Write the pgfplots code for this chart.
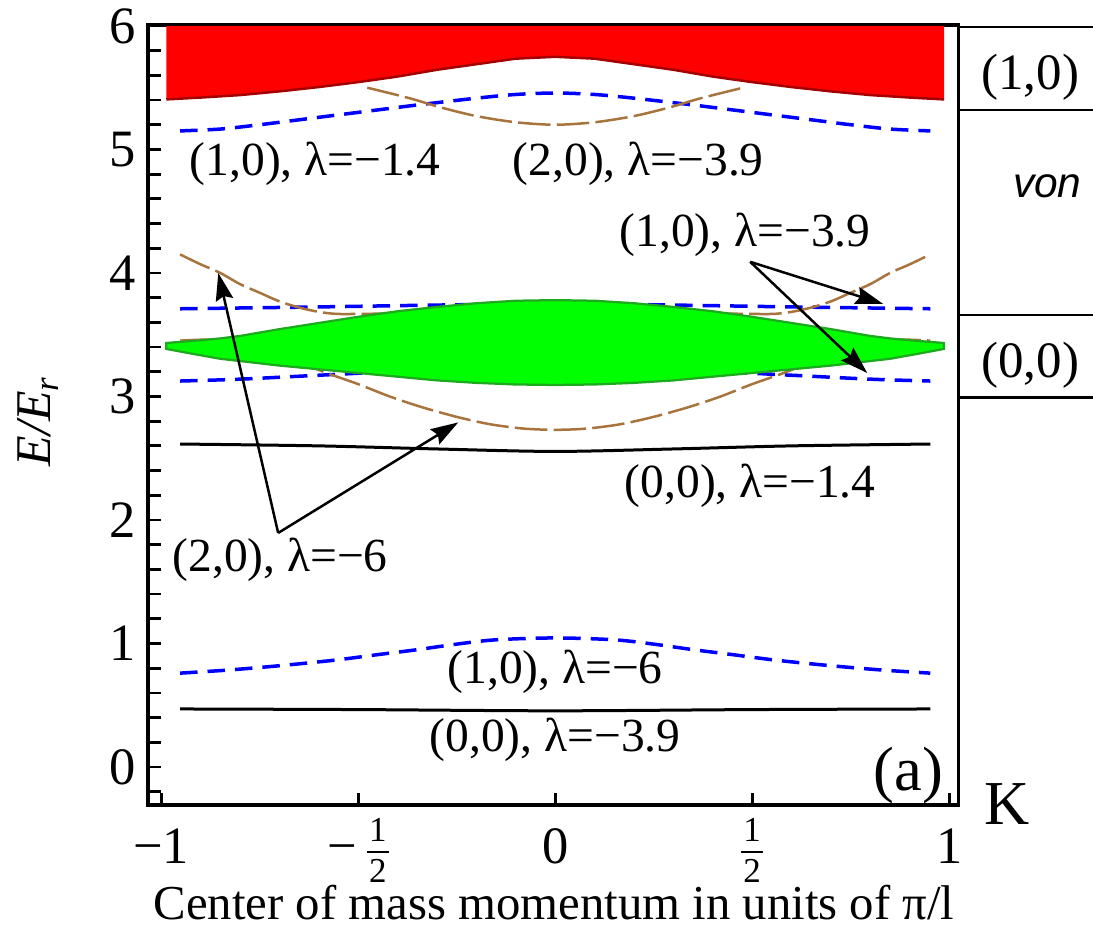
\documentclass[border=0pt]{standalone}
\usepackage{fontspec}
\setmainfont{Liberation Serif}
\newfontfamily\sansfam{Liberation Sans}
\usepackage{pgfplots}
\pgfplotsset{compat=1.18}
\usetikzlibrary{arrows.meta}
\definecolor{bandred}{RGB}{255,0,0}
\definecolor{edgered}{RGB}{165,0,0}
\definecolor{bandgreen}{RGB}{0,255,0}
\definecolor{edgegreen}{RGB}{30,170,30}
\definecolor{lineblue}{RGB}{0,0,255}
\definecolor{brownline}{RGB}{168,116,62}
\newcommand{\myfrac}[2]{\begingroup\fontsize{14}{14}\selectfont
\rlap{\raisebox{8.6pt}{\makebox[9pt]{#1}}}\rlap{\raisebox{4pt}{\rule{9pt}{0.9pt}}}\raisebox{-7.6pt}{\makebox[9pt]{#2}}\endgroup}
\newcommand{\lab}{\fontsize{19}{20}\selectfont}
\begin{document}
\begin{tikzpicture}
\begin{axis}[
  scale only axis, width=324pt, height=312pt,
  xmin=-1.033, xmax=1.023, ymin=-0.308, ymax=6.008,
  clip=false,
  axis line style={line width=1.4pt},
  tick pos=left, tick align=inside,
  major tick length=5pt, minor tick length=5pt,
  every tick/.style={line width=1.1pt, black},
  xtick={-1,-0.5,0,0.5,1},
  xticklabels={−1, −\hspace{4pt}\myfrac{1}{2}, 0, \myfrac{1}{2}, 1},
  ytick={0,1,2,3,4,5,6},
  yticklabels={0,1,2,3,4,5,6},
  minor ytick={-0.2,0.2,0.4,0.6,0.8,1.2,1.4,1.6,1.8,2.2,2.4,2.6,2.8,3.2,3.4,3.6,3.8,4.2,4.4,4.6,4.8,5.2,5.4,5.6,5.8},
  every tick label/.append style={font=\fontsize{21}{21}\selectfont},
  xticklabel style={anchor=base, yshift=-23.2pt, inner sep=0pt},
  yticklabel style={xshift=-1.4pt},
  xlabel={Center of mass momentum in units of π/l},
  xlabel style={font=\fontsize{19.5}{20}\selectfont, at={(axis description cs:0.501,-0.147)}, anchor=base, inner sep=0pt, text height=13pt},
  ylabel={\itshape E/E\textsubscript{\itshape r}},
  ylabel style={font=\fontsize{20}{20}\selectfont, at={(axis description cs:-0.136,0.492)}, anchor=center},
]
% blue dashed (1,0) lambda=-1.4
\addplot[lineblue, line width=1.4pt, dash pattern=on 7pt off 4pt, smooth] coordinates {
(-0.952,5.15) (-0.85,5.165) (-0.75,5.2) (-0.65,5.24) (-0.5,5.30) (-0.35,5.36) (-0.2,5.415) (-0.1,5.445) (0,5.457)
(0.1,5.445) (0.2,5.415) (0.35,5.36) (0.5,5.30) (0.65,5.24) (0.75,5.2) (0.85,5.165) (0.952,5.15)};
% brown (2,0) lambda=-3.9
\addplot[brownline, line width=1pt, dash pattern=on 13pt off 2.5pt, smooth] coordinates {
(-0.477,5.50) (-0.37,5.415) (-0.29,5.34) (-0.2,5.27) (-0.1,5.22) (0,5.20)
(0.1,5.22) (0.2,5.27) (0.29,5.34) (0.37,5.415) (0.477,5.50)};
% blue dashed (1,0) lambda=-3.9 upper
\addplot[lineblue, line width=1.4pt, dash pattern=on 7pt off 4pt, smooth] coordinates {
(-0.952,3.71) (-0.6,3.725) (-0.3,3.74) (0,3.75) (0.3,3.74) (0.6,3.725) (0.952,3.71)};
% blue dashed lower
\addplot[lineblue, line width=1.4pt, dash pattern=on 7pt off 4pt, smooth] coordinates {
(-0.952,3.125) (-0.8,3.14) (-0.58,3.175) (-0.4,3.20) (0,3.22) (0.4,3.20) (0.58,3.175) (0.8,3.14) (0.952,3.125)};
% brown (2,0) lambda=-6 upper
\addplot[brownline, line width=1pt, dash pattern=on 13pt off 2.5pt, smooth] coordinates {
(-0.952,4.15) (-0.9,4.07) (-0.85,4.0) (-0.8,3.91) (-0.75,3.84) (-0.7,3.77) (-0.65,3.72) (-0.6,3.685) (-0.55,3.668) (-0.45,3.67) (0,3.68)
(0.45,3.67) (0.55,3.668) (0.6,3.685) (0.65,3.72) (0.7,3.77) (0.75,3.84) (0.8,3.91) (0.85,4.0) (0.9,4.07) (0.952,4.15)};
% brown (2,0) lambda=-6 lower
\addplot[brownline, line width=1pt, dash pattern=on 13pt off 2.5pt, smooth] coordinates {
(-0.952,3.452) (-0.88,3.46) (-0.8,3.44) (-0.72,3.37) (-0.65,3.28) (-0.58,3.19) (-0.5,3.10) (-0.42,3.0) (-0.34,2.915) (-0.25,2.835) (-0.165,2.775) (-0.08,2.74) (0,2.73)
(0.08,2.74) (0.165,2.775) (0.25,2.835) (0.34,2.915) (0.42,3.0) (0.5,3.10) (0.58,3.19) (0.65,3.28) (0.72,3.37) (0.8,3.44) (0.88,3.46) (0.952,3.452)};
% black (0,0) lambda=-1.4
\addplot[black, line width=1.2pt, smooth] coordinates {
(-0.952,2.615) (-0.6,2.60) (-0.3,2.575) (0,2.555) (0.3,2.575) (0.6,2.60) (0.952,2.615)};
% blue dashed (1,0) lambda=-6
\addplot[lineblue, line width=1.4pt, dash pattern=on 7pt off 4pt, smooth] coordinates {
(-0.952,0.76) (-0.83,0.785) (-0.7,0.82) (-0.56,0.865) (-0.45,0.91) (-0.35,0.95) (-0.25,0.995) (-0.15,1.03) (0,1.045)
(0.15,1.03) (0.25,0.995) (0.35,0.95) (0.45,0.91) (0.56,0.865) (0.7,0.82) (0.83,0.785) (0.952,0.76)};
% black (0,0) lambda=-3.9
\addplot[black, line width=1.2pt, smooth] coordinates {
(-0.952,0.47) (-0.5,0.465) (0,0.455) (0.5,0.465) (0.952,0.47)};
% green band
\addplot[fill=bandgreen, draw=edgegreen, line width=0.9pt] coordinates {
(-0.987,3.433) (-0.9,3.455) (-0.85,3.47) (-0.8,3.49) (-0.7,3.545) (-0.6,3.595) (-0.5,3.645) (-0.4,3.69) (-0.3,3.725) (-0.2,3.755) (-0.1,3.775) (0,3.78)
(0.1,3.775) (0.2,3.755) (0.3,3.725) (0.4,3.69) (0.5,3.645) (0.6,3.595) (0.7,3.545) (0.8,3.49) (0.85,3.47) (0.9,3.455) (0.987,3.433)
(0.987,3.385) (0.92,3.345) (0.85,3.305) (0.7,3.25) (0.6,3.22) (0.5,3.19) (0.4,3.16) (0.3,3.13) (0.2,3.11) (0.1,3.097) (0,3.093)
(-0.1,3.097) (-0.2,3.11) (-0.3,3.13) (-0.4,3.16) (-0.5,3.19) (-0.6,3.22) (-0.7,3.25) (-0.85,3.305) (-0.92,3.345) (-0.987,3.385)} -- cycle;
% red band
\addplot[fill=bandred, draw=none] coordinates {
(-0.987,6.0) (-0.987,5.405) (-0.9,5.42) (-0.8,5.44) (-0.7,5.47) (-0.6,5.505) (-0.5,5.545) (-0.4,5.59) (-0.3,5.645) (-0.2,5.69) (-0.1,5.735) (0,5.75)
(0.1,5.735) (0.2,5.69) (0.3,5.645) (0.4,5.59) (0.5,5.545) (0.6,5.505) (0.7,5.47) (0.8,5.44) (0.9,5.42) (0.987,5.405) (0.987,6.0)} -- cycle;
\addplot[edgered, line width=1pt] coordinates {
(-0.987,5.405) (-0.9,5.42) (-0.8,5.44) (-0.7,5.47) (-0.6,5.505) (-0.5,5.545) (-0.4,5.59) (-0.3,5.645) (-0.2,5.69) (-0.1,5.735) (0,5.75)
(0.1,5.735) (0.2,5.69) (0.3,5.645) (0.4,5.59) (0.5,5.545) (0.6,5.505) (0.7,5.47) (0.8,5.44) (0.9,5.42) (0.987,5.405)};
% right-hand box
\addplot[black, line width=1pt] coordinates {(1.023,5.99) (1.365,5.99)};
\addplot[black, line width=1pt] coordinates {(1.023,5.32) (1.365,5.32)};
\addplot[black, line width=1pt] coordinates {(1.023,3.66) (1.365,3.66)};
\addplot[black, line width=1pt] coordinates {(1.023,2.99) (1.365,2.99)};
\node[font=\fontsize{20.4}{21}\selectfont] at (axis cs:1.206,5.587) {(1,0)};
\node[font=\sansfam\itshape\fontsize{17}{17}\selectfont] at (axis cs:1.249,4.70) {von};
\node[font=\fontsize{20.4}{21}\selectfont] at (axis cs:1.206,3.255) {(0,0)};
\node[font=\fontsize{25}{25}\selectfont] at (axis cs:1.147,-0.30) {K};
\node[font=\fontsize{25}{25}\selectfont] at (axis cs:0.896,-0.065) {(a)};
% labels
\node[font=\lab] at (axis cs:-0.609,4.883) {(1,0), λ=−1.4};
\node[font=\lab] at (axis cs:0.211,4.883) {(2,0), λ=−3.9};
\node[font=\lab] at (axis cs:0.482,4.308) {(1,0), λ=−3.9};
\node[font=\lab] at (axis cs:0.495,2.275) {(0,0), λ=−1.4};
\node[font=\lab] at (axis cs:-0.698,1.68) {(2,0), λ=−6};
\node[font=\lab] at (axis cs:0,0.77) {(1,0), λ=−6};
\node[font=\lab] at (axis cs:0,0.22) {(0,0), λ=−3.9};
% arrows
\draw[line width=1pt, -{Stealth[length=11pt,width=7pt,inset=1.5pt]}] (axis cs:0.495,4.09) -- (axis cs:0.832,3.75);
\draw[line width=1pt, -{Stealth[length=11pt,width=7pt,inset=1.5pt]}] (axis cs:0.495,4.09) -- (axis cs:0.792,3.19);
\draw[line width=1pt, -{Stealth[length=11pt,width=7pt,inset=1.5pt]}] (axis cs:-0.703,1.895) -- (axis cs:-0.855,4.0);
\draw[line width=1pt, -{Stealth[length=11pt,width=7pt,inset=1.5pt]}] (axis cs:-0.703,1.895) -- (axis cs:-0.246,2.79);
\coordinate (bbl) at (axis cs:-1.409,-1.296);
\coordinate (btr) at (axis cs:1.365,6.21);
\end{axis}
\pgfresetboundingbox
\path[use as bounding box] (bbl) rectangle (btr);
\end{tikzpicture}
\end{document}
